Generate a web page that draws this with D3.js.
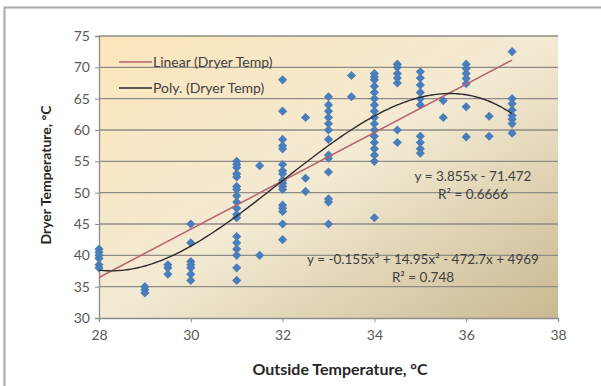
<!DOCTYPE html>
<html>
<head>
<meta charset="utf-8">
<script src="https://cdn.jsdelivr.net/npm/d3@7"></script>
<style>
  body { margin: 0; background: #fff; }
  text { font-family: Lato, "Open Sans", sans-serif; }
</style>
</head>
<body>
<div id="chart"></div>
<script>
// outside temperature levels (x) and the dryer temperatures measured at each (y)
const outsideTemps = [28, 29, 29.5, 30, 31, 31.5, 32, 32.5, 33, 33.5, 34, 34.5, 35, 35.5, 36, 36.5, 37]
const dryerTemps = [
    [41, 40.5, 40, 39.5, 38.5, 38],
    [35, 34.5, 34],
    [38.5, 38, 37],
    [45, 42, 39, 38.5, 38, 37, 36],
    [55, 54.5, 54, 53, 52.5, 51, 50.5, 49.5, 48.5, 47.5, 46.5, 46, 43, 42, 41, 40, 38, 36],
    [54.3, 40],
    [68, 63, 58.5, 57.5, 57, 54.5, 53.5, 53, 52, 51.5, 51, 50.5, 48, 47.5, 47, 45, 42.5],
    [62, 52.3, 50.2],
    [65.3, 64, 63, 62, 61, 60, 58.5, 56, 55.5, 53.3, 49, 48.5, 45],
    [68.7, 65.3],
    [69, 68.5, 68, 67, 66, 65, 64, 63, 62, 61, 60, 59, 58, 57, 56, 55, 46],
    [70.5, 70, 69, 68.3, 67.5, 60, 58],
    [69.3, 68.3, 67.2, 66, 65, 64, 59, 58, 57, 56.3],
    [64.7, 62],
    [70.5, 69.8, 69, 68.2, 67.4, 63.7, 58.9],
    [62.2, 59],
    [72.5, 65, 64.2, 63.2, 62.3, 61.7, 61, 59.5]
]
const linearCoef = [3.855, -71.472]   // slope, intercept as printed on the chart
const xTicks = [28, 30, 32, 34, 36, 38]
const yTicks = [30, 35, 40, 45, 50, 55, 60, 65, 70, 75]
const legendLabels = ['Linear (Dryer Temp)', 'Poly. (Dryer Temp)']
const linearLabels = ['y = 3.855x - 71.472', 'R\u00b2 = 0.6666']
const polyLabels = ['y = -0.155x\u00b3 + 14.95x\u00b2 - 472.7x + 4969', 'R\u00b2 = 0.748']

const width = 601, height = 386
const plot = { left: 99, right: 558, top: 36, bottom: 318 }

const points = []
outsideTemps.forEach((x, i) => dryerTemps[i].forEach(y => points.push({ x, y })))

const x = d3.scaleLinear().domain([28, 38]).range([plot.left, plot.right])
const y = d3.scaleLinear().domain([30, 75]).range([plot.bottom, plot.top])

// least squares cubic (the printed coefficients are too rounded to plot);
// centred on 32 to keep the numbers sane
function polyFit(pts, order) {
    const n = order + 1
    const A = d3.range(n).map(() => d3.range(n + 1).map(() => 0))
    pts.forEach(p => {
        const u = p.x - 32
        for (let r = 0; r < n; r++) {
            for (let c = 0; c < n; c++) A[r][c] += Math.pow(u, r + c)
            A[r][n] += p.y * Math.pow(u, r)
        }
    })
    for (let k = 0; k < n; k++) {
        for (let r = k + 1; r < n; r++) {
            const f = A[r][k] / A[k][k]
            for (let c = k; c <= n; c++) A[r][c] -= f * A[k][c]
        }
    }
    const coef = new Array(n).fill(0)
    for (let r = n - 1; r >= 0; r--) {
        let s = A[r][n]
        for (let c = r + 1; c < n; c++) s -= A[r][c] * coef[c]
        coef[r] = s / A[r][r]
    }
    return xv => coef.reduce((acc, c, i) => acc + c * Math.pow(xv - 32, i), 0)
}

const linFit = xv => linearCoef[0] * xv + linearCoef[1]
const cubicFit = polyFit(points, 3)
const xMin = d3.min(outsideTemps), xMax = d3.max(outsideTemps)

const svg = d3.select('#chart').append('svg')
    .attr('width', width)
    .attr('height', height)

const defs = svg.append('defs')
const grad = defs.append('linearGradient')
    .attr('id', 'bg')
    .attr('x1', 0).attr('y1', 0).attr('x2', 1).attr('y2', 1)
grad.append('stop').attr('offset', 0).attr('stop-color', '#fce5ba')
grad.append('stop').attr('offset', 0.5).attr('stop-color', '#f3ead3')
grad.append('stop').attr('offset', 1).attr('stop-color', '#c9b991')

// chart border (only top and left visible in the crop)
svg.append('path')
    .attr('d', `M4.5,${height}V7.5H${width}`)
    .attr('fill', 'none')
    .attr('stroke', '#a8a8a8')
    .attr('stroke-width', 2)

svg.append('rect')
    .attr('x', plot.left)
    .attr('y', plot.top)
    .attr('width', plot.right - plot.left)
    .attr('height', plot.bottom - plot.top)
    .attr('fill', 'url(#bg)')

// gridlines
svg.append('g')
    .selectAll('line')
    .data(yTicks.filter(t => t > 30))
    .enter().append('line')
    .attr('x1', plot.left).attr('x2', plot.right)
    .attr('y1', d => y(d)).attr('y2', d => y(d))
    .attr('stroke', '#8f8c86')
    .attr('stroke-width', 1.3)

const yAxis = svg.append('g')
    .attr('transform', `translate(${plot.left},0)`)
    .call(d3.axisLeft(y).tickValues(yTicks).tickSize(4).tickPadding(5))
const xAxis = svg.append('g')
    .attr('transform', `translate(0,${plot.bottom})`)
    .call(d3.axisBottom(x).tickValues(xTicks).tickSize(4).tickPadding(8))

;[xAxis, yAxis].forEach(ax => {
    ax.select('.domain').attr('stroke', '#8c8c8c').attr('stroke-width', 1.3)
    ax.selectAll('.tick line').attr('stroke', '#8c8c8c')
    ax.selectAll('.tick text')
        .attr('fill', '#595959')
        .style('font-size', '14px')
        .style('font-family', 'Lato, sans-serif')
})

// data points, Excel-style diamonds
const diamond = d3.symbol(d3.symbolSquare, 42)
svg.append('g')
    .selectAll('path')
    .data(points)
    .enter().append('path')
    .attr('d', diamond)
    .attr('transform', d => `translate(${x(d.x)},${y(d.y)}) rotate(45)`)
    .attr('fill', '#4a7ebb')

// trendlines
const line = d3.line().x(d => x(d[0])).y(d => y(d[1]))
const samples = d3.range(0, 181).map(i => xMin + (xMax - xMin) * i / 180)

svg.append('path')
    .attr('d', line([[xMin, linFit(xMin)], [xMax, linFit(xMax)]]))
    .attr('fill', 'none')
    .attr('stroke', '#b8626e')
    .attr('stroke-width', 1.5)

svg.append('path')
    .attr('d', line(samples.map(v => [v, cubicFit(v)])))
    .attr('fill', 'none')
    .attr('stroke', '#2b2b2b')
    .attr('stroke-width', 1.4)

// legend
const legendColors = ['#b8626e', '#2b2b2b']
const legend = svg.append('g')
legendLabels.forEach((label, i) => {
    const ly = 62 + i * 26
    legend.append('line')
        .attr('x1', 119).attr('x2', 152)
        .attr('y1', ly).attr('y2', ly)
        .attr('stroke', legendColors[i])
        .attr('stroke-width', 1.5)
    legend.append('text')
        .attr('x', 153).attr('y', ly + 5)
        .attr('fill', '#404040')
        .style('font-size', '14px')
        .text(label)
})

// trendline equations
linearLabels.forEach((t, i) => {
    svg.append('text')
        .attr('x', 473).attr('y', 181 + i * 18)
        .attr('text-anchor', 'middle')
        .attr('fill', '#404040')
        .style('font-size', '13.5px')
        .text(t)
})
polyLabels.forEach((t, i) => {
    svg.append('text')
        .attr('x', 423).attr('y', 264 + i * 18)
        .attr('text-anchor', 'middle')
        .attr('fill', '#404040')
        .style('font-size', '13.5px')
        .text(t)
})

// axis titles
svg.append('text')
    .attr('x', 340).attr('y', 375)
    .attr('text-anchor', 'middle')
    .attr('fill', '#262626')
    .style('font-size', '16px')
    .style('font-weight', 'bold')
    .text('Outside Temperature, \u00b0C')

svg.append('text')
    .attr('transform', 'translate(51,175) rotate(-90)')
    .attr('text-anchor', 'middle')
    .attr('fill', '#262626')
    .style('font-size', '14px')
    .style('font-weight', 'bold')
    .text('Dryer Temperature, \u00b0C')
</script>
</body>
</html>
